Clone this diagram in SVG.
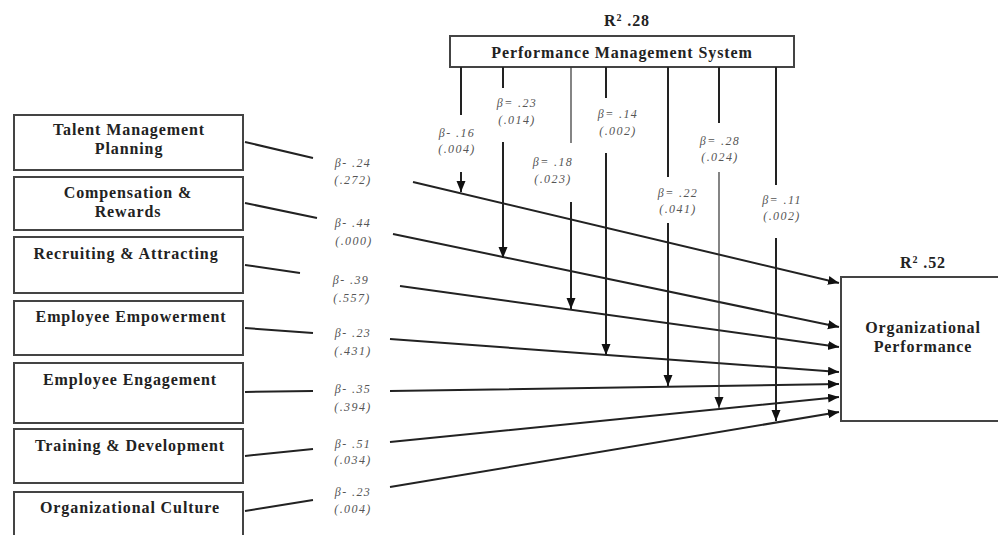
<svg xmlns="http://www.w3.org/2000/svg" width="998" height="535" viewBox="0 0 998 535">
<style>
.box{fill:#fff;stroke:#444;stroke-width:2}
.nt{font-family:"Liberation Serif",serif;font-weight:bold;font-size:16px;letter-spacing:0.9px;fill:#222;text-anchor:middle}
.bt{font-family:"Liberation Serif",serif;font-style:italic;font-size:12px;letter-spacing:1.4px;fill:#555;text-anchor:middle}
.ln{fill:none;stroke:#222;stroke-width:2}
.thin{fill:none;stroke:#333;stroke-width:1.2}
</style>
<defs>
<marker id="ah" markerUnits="userSpaceOnUse" markerWidth="12" markerHeight="10" refX="11" refY="4.5" orient="auto">
<path d="M0,0 L11,4.5 L0,9 z" fill="#111"/>
</marker>
</defs>
<rect width="998" height="535" fill="#fff"/>

<g id="talent"><rect class="box" x="14" y="115" width="229" height="55"/><text class="nt" x="129" y="135">Talent Management</text><text class="nt" x="129" y="154">Planning</text></g>
<g id="compensation"><rect class="box" x="14" y="177" width="229" height="53"/><text class="nt" x="128" y="198">Compensation &amp;</text><text class="nt" x="128" y="217">Rewards</text></g>
<g id="recruiting"><rect class="box" x="14" y="237" width="229" height="56"/><text class="nt" x="126" y="259">Recruiting &amp; Attracting</text></g>
<g id="empowerment"><rect class="box" x="14" y="301" width="229" height="54"/><text class="nt" x="131" y="322">Employee Empowerment</text></g>
<g id="engagement"><rect class="box" x="14" y="363" width="229" height="60"/><text class="nt" x="130" y="385">Employee Engagement</text></g>
<g id="training"><rect class="box" x="14" y="429" width="229" height="54"/><text class="nt" x="130" y="451">Training &amp; Development</text></g>
<g id="culture"><rect class="box" x="14" y="492" width="229" height="50"/><text class="nt" x="130" y="513">Organizational Culture</text></g>

<g id="pms"><text class="nt" x="627" y="26">R<tspan font-size="10" baseline-shift="super">2</tspan> .28</text><rect class="box" x="450" y="36" width="344" height="31"/><text class="nt" x="622" y="58">Performance Management System</text></g>

<g id="orgperf"><text class="nt" x="923" y="268">R<tspan font-size="10" baseline-shift="super">2</tspan> .52</text><rect class="box" x="841" y="277" width="160" height="144"/><text class="nt" x="923" y="333">Organizational</text><text class="nt" x="923" y="352">Performance</text></g>

<g id="connectors">
<path class="ln" d="M245,142 L313,158 M413,182 L839,283" marker-end="url(#ah)"/>
<path class="ln" d="M245,203 L317,218 M393,234 L839,327" marker-end="url(#ah)"/>
<path class="ln" d="M245,265 L300,273 M400,286 L839,347" marker-end="url(#ah)"/>
<path class="ln" d="M245,328 L313,333 M390,339 L839,372" marker-end="url(#ah)"/>
<path class="ln" d="M245,392 L313,391 M390,391 L839,384" marker-end="url(#ah)"/>
<path class="ln" d="M245,456 L313,449 M390,442 L839,397" marker-end="url(#ah)"/>
<path class="ln" d="M245,511 L313,500 M390,487 L839,412" marker-end="url(#ah)"/>

<path class="ln" d="M461,67 L461,115 M461,172 L461,192" marker-end="url(#ah)"/>
<path class="ln" d="M503,67 L503,88 M503,142 L503,258" marker-end="url(#ah)"/>
<path class="thin" d="M571,67 L571,143"/>
<path class="ln" d="M571,202 L571,309" marker-end="url(#ah)"/>
<path class="ln" d="M606,67 L606,98 M606,153 L606,355" marker-end="url(#ah)"/>
<path class="ln" d="M668,67 L668,177 M668,223 L668,386" marker-end="url(#ah)"/>
<path class="ln" d="M719,67 L719,123"/>
<path class="thin" d="M719,172 L719,408" marker-end="url(#ah)"/>
<path class="ln" d="M776,67 L776,185 M776,238 L776,421" marker-end="url(#ah)"/>
</g>

<g id="labels">
<text class="bt" x="353" y="167">β- .24</text><text class="bt" x="353" y="184">(.272)</text>
<text class="bt" x="353" y="227">β- .44</text><text class="bt" x="354" y="245">(.000)</text>
<text class="bt" x="351" y="284">β- .39</text><text class="bt" x="352" y="302">(.557)</text>
<text class="bt" x="353" y="337">β- .23</text><text class="bt" x="353" y="355">(.431)</text>
<text class="bt" x="353" y="393">β- .35</text><text class="bt" x="353" y="411">(.394)</text>
<text class="bt" x="353" y="448">β- .51</text><text class="bt" x="353" y="464">(.034)</text>
<text class="bt" x="353" y="496">β- .23</text><text class="bt" x="353" y="513">(.004)</text>

<text class="bt" x="457" y="137">β- .16</text><text class="bt" x="457" y="153">(.004)</text>
<text class="bt" x="517" y="107">β= .23</text><text class="bt" x="517" y="124">(.014)</text>
<text class="bt" x="553" y="166">β= .18</text><text class="bt" x="553" y="183">(.023)</text>
<text class="bt" x="618" y="118">β= .14</text><text class="bt" x="618" y="135">(.002)</text>
<text class="bt" x="678" y="197">β= .22</text><text class="bt" x="678" y="213">(.041)</text>
<text class="bt" x="720" y="145">β= .28</text><text class="bt" x="720" y="161">(.024)</text>
<text class="bt" x="782" y="204">β= .11</text><text class="bt" x="782" y="220">(.002)</text>
</g>
</svg>
